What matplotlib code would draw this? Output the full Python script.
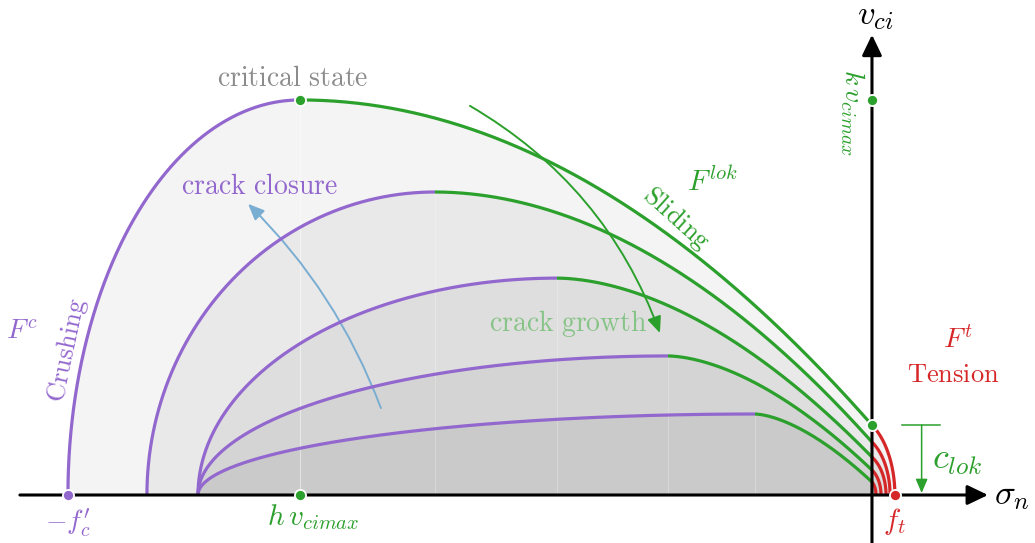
import numpy as np
import matplotlib
matplotlib.use("Agg")
import matplotlib.pyplot as plt
from matplotlib.patches import FancyArrowPatch

plt.rcParams["mathtext.fontset"] = "cm"

# Yield surfaces of the interface model, outer to inner (sigma_n, v_ci units)
sigma_start = [-40.0, -36.07, -33.53, -33.53, -33.53]   # cap meets sigma_n axis
sigma_peak = [-28.46, -21.74, -15.67, -10.15, -5.82]    # cap / sliding transition
v_peak = [10.0, 7.67, 5.49, 3.52, 2.05]                 # shear at transition
v_cohesion = [1.77, 1.34, 0.96, 0.63, 0.33]             # shear at sigma_n = 0
f_tension = [1.14, 0.90, 0.70, 0.45, 0.20]              # tensile strength
slide_exp = [2.0, 1.95, 1.8, 1.7, 1.6]                  # sliding branch curvature

fc = 40.0
h_vcimax = -28.46
k_vcimax = 10.0

PURPLE = "#9368ce"
GREEN = "#2ca02c"
RED = "#d62728"
BLUE = "#7aadd2"

fig = plt.figure(figsize=(10.35, 5.43), dpi=100)
ax = fig.add_axes([0, 0, 1, 1])
ax.set_xlim(-43.38, 8.11)
ax.set_ylim(-1.215, 12.53)
ax.axis("off")


def surface(x0, xp, yp, yc, xt, n):
    th = np.linspace(0, np.pi / 2, 300)
    xa = xp - (xp - x0) * np.cos(th)
    ya = yp * np.sin(th)
    t = np.linspace(0, 1, 300)
    xb = xp * (1 - t)
    yb = yp - (yp - yc) * t ** n
    xc = -xt
    A = xt - xc
    phi0 = np.arccos(-xc / A)
    B = yc / np.sin(phi0)
    phi = np.linspace(phi0, 0, 200)
    xr = xc + A * np.cos(phi)
    yr = B * np.sin(phi)
    return (xa, ya), (xb, yb), (xr, yr)


for i in range(len(sigma_start)):
    (xa, ya), (xb, yb), (xr, yr) = surface(sigma_start[i], sigma_peak[i], v_peak[i],
                                           v_cohesion[i], f_tension[i], slide_exp[i])
    px = np.concatenate([xa, xb, xr])
    py = np.concatenate([ya, yb, yr])
    ax.fill(px, py, color="black", alpha=0.045, lw=0, zorder=1)
    ax.plot([sigma_peak[i], sigma_peak[i]], [0, v_peak[i]], color="white", lw=0.6,
            alpha=0.3 if i else 0.6, zorder=1.5)
    ax.plot(xa, ya, color=PURPLE, lw=2.3, zorder=3, solid_capstyle="butt")
    ax.plot(xb, yb, color=GREEN, lw=2.3, zorder=3, solid_capstyle="butt")
    ax.plot(xr, yr, color=RED, lw=2.3, zorder=3, solid_capstyle="butt")

# Axes with arrow heads
axis_style = "-|>,head_length=1.25,head_width=0.6"
ax.annotate("", xy=(5.77, 0), xytext=(-42.39, 0),
            arrowprops=dict(arrowstyle=axis_style, lw=2.2, color="black",
                            shrinkA=0, shrinkB=0, mutation_scale=10), zorder=4)
ax.annotate("", xy=(0, 11.65), xytext=(0, -1.3),
            arrowprops=dict(arrowstyle=axis_style, lw=2.2, color="black",
                            shrinkA=0, shrinkB=0, mutation_scale=10), zorder=4)

# Load-path arrows
ax.add_patch(FancyArrowPatch((-24.43, 2.20), (-31.04, 7.37),
                             connectionstyle="arc3,rad=0.11",
                             arrowstyle="-|>,head_length=0.7,head_width=0.3",
                             mutation_scale=14, lw=1.4, color=BLUE,
                             shrinkA=0, shrinkB=0, zorder=2.5))
ax.add_patch(FancyArrowPatch((-20.0, 9.85), (-10.55, 4.10),
                             connectionstyle="arc3,rad=-0.18",
                             arrowstyle="-|>,head_length=0.7,head_width=0.3",
                             mutation_scale=14, lw=1.4, color=GREEN,
                             shrinkA=0, shrinkB=0, zorder=2.5))

# Cohesion bracket
ax.plot([1.49, 3.38], [v_cohesion[0], v_cohesion[0]], color=GREEN, lw=1.1, zorder=3)
ax.add_patch(FancyArrowPatch((2.47, v_cohesion[0]), (2.47, 0.05),
                             arrowstyle="-|>,head_length=0.7,head_width=0.3",
                             mutation_scale=12, lw=1.1, color=GREEN,
                             shrinkA=0, shrinkB=0, zorder=3))

# Characteristic points
dot = dict(marker="o", ms=8, mec="white", mew=1.3, ls="none", zorder=5)
ax.plot([-fc], [0], color=PURPLE, **dot)
ax.plot([h_vcimax], [0], color=GREEN, **dot)
ax.plot([h_vcimax], [k_vcimax], color=GREEN, **dot)
ax.plot([0], [k_vcimax], color=GREEN, **dot)
ax.plot([0], [v_cohesion[0]], color=GREEN, **dot)
ax.plot([f_tension[0]], [0], color=RED, **dot)

# Labels
ax.text(-28.8, 10.56, r"$\mathrm{critical\ state}$", color="#8c8c8c", fontsize=20,
        ha="center", va="center")
ax.text(-30.45, 7.82, r"$\mathrm{crack\ closure}$", color=PURPLE, fontsize=20,
        ha="center", va="center")
ax.text(-15.12, 4.35, r"$\mathrm{crack\ growth}$", color="#86c386", fontsize=20,
        ha="center", va="center")
ax.text(-7.96, 7.92, r"$F^{lok}$", color=GREEN, fontsize=21, ha="center", va="center")
ax.text(-9.75, 7.0, r"$\mathrm{Sliding}$", color=GREEN, fontsize=19, ha="center",
        va="center", rotation=-42, rotation_mode="anchor")
ax.text(-42.29, 4.13, r"$F^{c}$", color=PURPLE, fontsize=20, ha="center", va="center")
ax.text(-40.05, 3.67, r"$\mathrm{Crushing}$", color=PURPLE, fontsize=19, ha="center",
        va="center", rotation=78, rotation_mode="anchor")
ax.text(4.28, 3.92, r"$F^{t}$", color=RED, fontsize=20, ha="center", va="center")
ax.text(4.03, 3.04, r"$\mathrm{Tension}$", color=RED, fontsize=19, ha="center", va="center")
ax.text(4.25, 0.886, r"$c_{lok}$", color=GREEN, fontsize=26, ha="center", va="center")
ax.text(-40.0, -0.71, r"$-f^{\prime}_c$", color=PURPLE, fontsize=20, ha="center", va="center")
ax.text(-27.8, -0.55, r"$h\,v_{cimax}$", color=GREEN, fontsize=21, ha="center", va="center")
ax.text(1.14, -0.68, r"$f_t$", color=RED, fontsize=21, ha="center", va="center")
ax.text(-0.97, 9.68, r"$k\,v_{cimax}$", color=GREEN, fontsize=20, ha="center",
        va="center", rotation=-90)
ax.text(0.15, 12.15, r"$v_{ci}$", color="black", fontsize=25, ha="center", va="center")
ax.text(6.98, 0.0, r"$\sigma_n$", color="black", fontsize=25, ha="center", va="center")

fig.savefig("out.png", dpi=100)
